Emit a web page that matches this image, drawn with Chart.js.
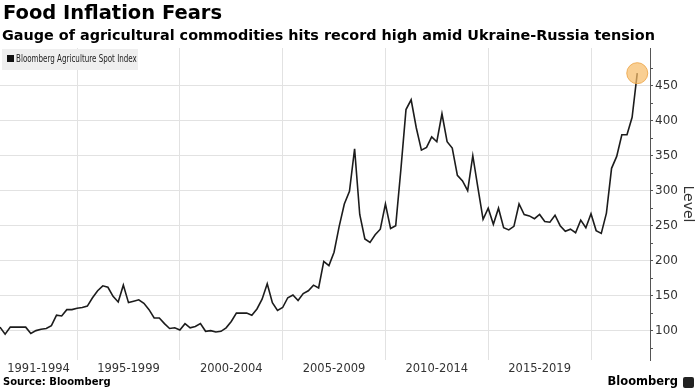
<!DOCTYPE html>
<html><head><meta charset="utf-8">
<script src="https://cdn.jsdelivr.net/npm/chart.js@4/dist/chart.umd.min.js"></script>
<style>
html,body{margin:0;padding:0;background:#fff;}
#wrap{position:relative;width:696px;height:392px;overflow:hidden;font-family:"DejaVu Sans",sans-serif;color:#000;}
#c{position:absolute;left:0;top:0;}
#title{position:absolute;left:3px;top:1px;font-weight:bold;font-size:19.5px;white-space:nowrap;}
#subtitle{position:absolute;left:2px;top:27px;font-weight:bold;font-size:14.4px;white-space:nowrap;}
#legend{position:absolute;left:2px;top:49px;width:126px;height:15px;background:#efefef;padding:3px 5px 3px 5px;font-size:10.5px;color:#222;white-space:nowrap;}
#legend i{display:inline-block;width:7px;height:7px;background:#111;margin-right:2px;vertical-align:0px;}
#legtext{display:inline-block;transform:scaleX(0.68);transform-origin:0 50%;}
#source{position:absolute;left:3px;top:376px;font-weight:bold;font-size:10px;white-space:nowrap;}
#brand{position:absolute;right:18px;top:374px;font-weight:bold;font-size:11.5px;white-space:nowrap;}
#icon{position:absolute;left:683px;top:377px;width:11px;height:11px;background:#222;border-radius:2px;}
</style></head>
<body><div id="wrap">
<canvas id="c" width="696" height="392"></canvas>
<div id="title">Food Inflation Fears</div>
<div id="subtitle">Gauge of agricultural commodities hits record high amid Ukraine-Russia tension</div>
<div id="legend"><i></i><span id="legtext"></span></div>
<div id="source">Source: Bloomberg</div>
<div id="brand">Bloomberg</div>
<div id="icon"></div>
</div>
<script>
const seriesName = 'Bloomberg Agriculture Spot Index';
const startYear = 1991.25;   // first quarterly observation
const stepYears = 0.25;      // quarterly
const values = [
  105,95,105,105,105,105,96,100,102,103,
  107,122,121,130,130,132,133,135,147,157,
  164,162,149,141,165,140,142,144,139,130,
  118,118,110,103,104,101,110,104,106,110,
  99,100,98,99,104,113,125,125,125,122,
  131,145,167,140,129,133,147,151,143,153,
  157,165,161,199,193,212,249,281,299,360,
  266,231,226,237,245,281,246,250,330,416,
  430,390,358,362,377,370,410,370,361,322,
  314,300,350,304,259,275,252,275,247,244,
  249,281,266,264,260,266,256,255,265,250,
  242,245,240,258,247,267,243,239,268,332,
  349,380,380,405,468
];
const periodLabels = ['1991-1994','1995-1999','2000-2004','2005-2009','2010-2014','2015-2019'];
const periodStarts = [1991,1995,2000,2005,2010,2015];
const periodBounds = [1995,2000,2005,2010,2015,2020];
const yTickValues = [100,150,200,250,300,350,400,450];
const xMin = 1991.25, xMax = 2022.87;
const yMin = 58, yMax = 504;

document.getElementById('legtext').textContent = seriesName;

const points = values.map((v,i)=>({x: startYear + i*stepYears, y: v}));
const centers = periodStarts.map((s,i)=>{
  const a = Math.max(s, xMin);
  const b = i < periodStarts.length-1 ? periodStarts[i+1] : 2020;
  return (a+b)/2;
});
const near = (a,b)=>Math.abs(a-b)<1e-6;
const isBound = v => periodBounds.some(b=>near(b,v));
const yMinor = [];
yTickValues.forEach(v=>yMinor.push(v+25));
yMinor.push(yTickValues[0]-25);
const isMajorY = v => yTickValues.some(t=>near(t,v));

new Chart(document.getElementById('c'), {
  type: 'line',
  data: { datasets: [{
    label: seriesName,
    data: points,
    borderColor: '#1c1c1c',
    borderWidth: 1.6,
    tension: 0,
    pointRadius: ctx => ctx.dataIndex === values.length-1 ? 10.5 : 0,
    pointHoverRadius: 0,
    pointBackgroundColor: 'rgba(246,188,105,0.72)',
    pointBorderColor: 'rgba(236,165,70,0.85)',
    pointBorderWidth: 1,
    clip: false
  }]},
  options: {
    responsive: false,
    devicePixelRatio: 1,
    animation: false,
    layout: { autoPadding: false, padding: { top: 48, left: 0, right: 0, bottom: 0 } },
    plugins: { legend: { display: false }, tooltip: { enabled: false } },
    scales: {
      x: {
        type: 'linear', min: xMin, max: xMax,
        afterBuildTicks: s => {
          const arr = periodBounds.concat(centers).sort((a,b)=>a-b);
          s.ticks = arr.map(v=>({value:v}));
        },
        afterFit: s => { s.height = 32; s.paddingLeft = 0; s.paddingRight = 0; },
        ticks: {
          autoSkip: false, maxRotation: 0, minRotation: 0, padding: 2,
          color: '#333', font: { family: 'DejaVu Sans', size: 11.5 },
          callback: v => { const k = centers.findIndex(c=>near(c,v)); return k>=0 ? periodLabels[k] : ''; }
        },
        grid: { color: c => (c.tick && isBound(c.tick.value)) ? '#e2e2e2' : 'rgba(0,0,0,0)', drawTicks: false, lineWidth: 1 },
        border: { display: false }
      },
      y: {
        type: 'linear', position: 'right', min: yMin, max: yMax,
        afterBuildTicks: s => {
          const arr = yTickValues.concat(yMinor).sort((a,b)=>a-b);
          s.ticks = arr.map(v=>({value:v}));
        },
        afterFit: s => { s.width = 46; },
        ticks: {
          padding: 2, color: '#333', font: { family: 'DejaVu Sans', size: 12 },
          callback: v => isMajorY(v) ? String(v) : ''
        },
        grid: { color: c => (c.tick && isMajorY(c.tick.value)) ? '#e2e2e2' : 'rgba(0,0,0,0)', tickColor: '#555', tickLength: 3, lineWidth: 1 },
        border: { display: true, color: '#555', width: 1 },
        title: { display: true, text: 'Level', color: '#333', font: { family: 'DejaVu Sans', size: 14 }, padding: 0 }
      }
    }
  }
});
</script>
</body></html>
